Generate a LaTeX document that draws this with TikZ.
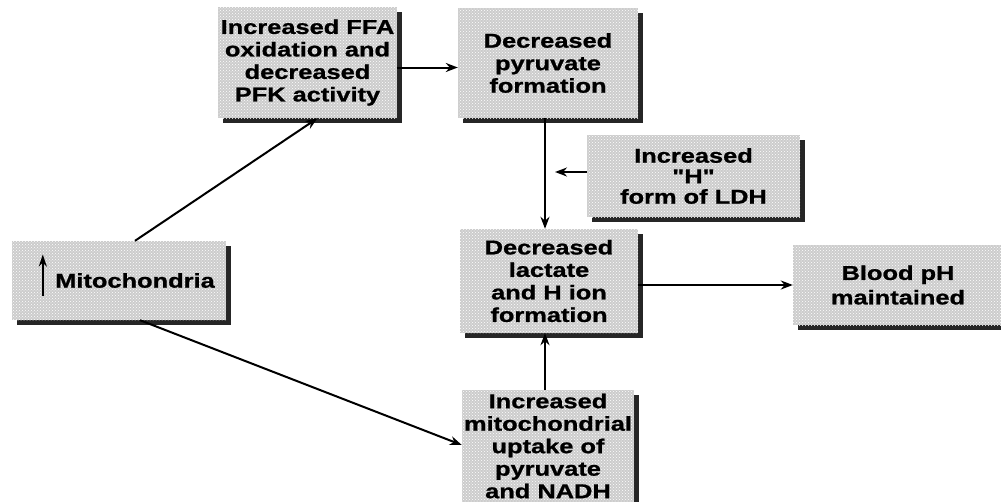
\documentclass[tikz,border=0pt]{standalone}
\usepackage{fontspec}
\setmainfont{Liberation Sans}[FakeStretch=1.27, BoldFeatures={FakeBold=1}, Ligatures=TeXOff]
\usetikzlibrary{arrows.meta,shadows,patterns}
\tikzset{
  box/.style={fill=black!20, inner sep=0pt, align=center,
    font=\fontsize{20}{22.5}\selectfont\bfseries,
    drop shadow={shadow xshift=5pt, shadow yshift=-5pt, fill=black!85, opacity=1},
    postaction={pattern=crosshatch dots, pattern color=white}},
  link/.style={line width=2pt, -{Stealth[length=12pt,width=9pt]}},
}
\begin{document}
\begin{tikzpicture}[x=1pt,y=-1pt]
  \useasboundingbox (0,0) rectangle (1001,501);
  \draw
    (119,280.5) node[box, minimum width=214pt, minimum height=79pt] (mito) {\hspace*{32pt}Mitochondria}
    (307.5,62.5) node[box, minimum width=179pt, minimum height=111pt] (ffa) {Increased FFA\\oxidation and\\decreased\\PFK activity}
    (548,63) node[box, minimum width=180pt, minimum height=110pt] (pyr) {Decreased\\pyruvate\\formation}
    (693.5,176) node[box, minimum width=213pt, minimum height=82pt, font=\fontsize{20}{20.5}\selectfont\bfseries] (ldh) {Increased\\"H"\\form of LDH}
    (549,281) node[box, minimum width=178pt, minimum height=104pt] (lact) {Decreased\\lactate\\and H ion\\formation}
    (898,285) node[box, minimum width=210pt, minimum height=80pt, font=\fontsize{20}{24.5}\selectfont\bfseries] (blood) {Blood pH\\maintained}
    (548,446) node[box, minimum width=172pt, minimum height=112pt] (upt) {Increased\\mitochondrial\\uptake of\\pyruvate\\and NADH};
  \coordinate (ldhtip) at (555,172);
  % up arrow in front of the label
  \draw[line width=2pt, -{Stealth[length=12pt,width=8pt]}] ([xshift=31pt,yshift=-15pt]mito.west) -- ++(0,-41);
  \begin{scope}[link]
    \draw ([yshift=-5pt]ffa.east) to ([yshift=-5pt]ffa.east -| pyr.west);
    \draw ([xshift=-3pt]pyr.south) to ([xshift=-3pt]pyr.south |- lact.north);
    \draw ([yshift=4pt]ldh.west) to (ldhtip);
    \draw ([xshift=16pt]mito.north) to ([xshift=10pt]ffa.south);
    \draw ([xshift=21pt]mito.south) to ([yshift=1pt]upt.west);
    \draw ([xshift=-3pt]upt.north) to ([xshift=-3pt]upt.north |- lact.south);
    \draw ([yshift=-4pt]lact.east) to ([yshift=-4pt]lact.east -| blood.west);
  \end{scope}
\end{tikzpicture}
\end{document}
